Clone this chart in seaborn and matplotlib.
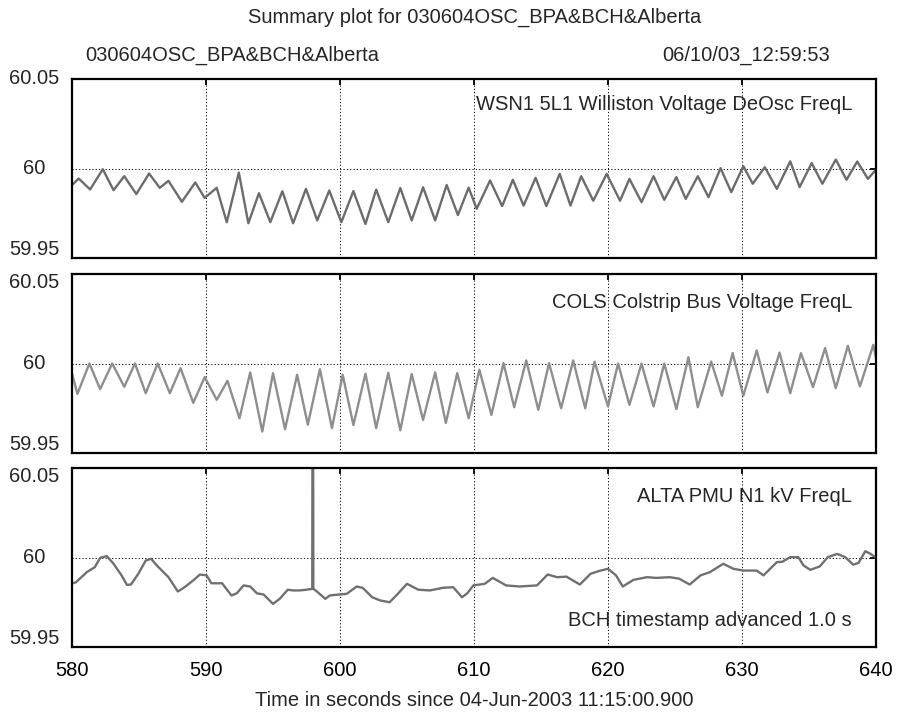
import matplotlib
matplotlib.use("Agg")
import matplotlib.pyplot as plt
import seaborn as sns
import pandas as pd

# ---- data: time (s) and frequency (Hz) for each monitored bus ----
wsn_t = [580.0, 580.5, 581.35, 582.3, 583.1, 583.9, 584.8, 585.75, 586.55, 587.2,
         588.2, 589.2, 589.9, 590.8, 591.55, 592.45, 593.16, 593.95, 594.8, 595.7,
         596.5, 597.46, 598.3, 599.2, 600.1, 601.0, 601.9, 602.7, 603.6, 604.5,
         605.35, 606.2, 607.1, 607.96, 608.8, 609.6, 610.2, 611.2, 612.1, 612.9,
         613.7, 614.6, 615.4, 616.4, 617.2, 618.0, 618.9, 619.9, 620.9, 621.6,
         622.5, 623.4, 624.2, 625.1, 625.8, 626.7, 627.5, 628.4, 629.2, 630.1,
         630.8, 631.7, 632.6, 633.6, 634.3, 635.2, 636.0, 637.0, 637.8, 638.6,
         639.4, 640.0]
wsn_f = [59.9907, 59.9944, 59.9883, 59.9996, 59.9879, 59.9957, 59.9857, 59.9972, 59.9892, 59.9931,
         59.9814, 59.9922, 59.9836, 59.9892, 59.9700, 59.9977, 59.9694, 59.9862, 59.9700, 59.9873,
         59.9694, 59.9886, 59.9710, 59.9877, 59.9700, 59.9874, 59.9690, 59.9882, 59.9700, 59.9891,
         59.9710, 59.9895, 59.9710, 59.9908, 59.9740, 59.9893, 59.9775, 59.9933, 59.9790, 59.9937,
         59.9793, 59.9948, 59.9790, 59.9970, 59.9793, 59.9957, 59.9820, 59.9970, 59.9820, 59.9942,
         59.9812, 59.9957, 59.9825, 59.9952, 59.9830, 59.9957, 59.9840, 60.0002, 59.9868, 60.0013,
         59.9915, 60.0007, 59.9886, 60.0040, 59.9896, 60.0030, 59.9915, 60.0050, 59.9937, 60.0039,
         59.9942, 59.9994]

cols_t = [580.0, 580.4, 581.3, 582.1, 583.0, 583.9, 584.7, 585.5, 586.4, 587.3,
          588.1, 589.05, 589.9, 590.8, 591.6, 592.5, 593.3, 594.2, 595.0, 595.9,
          596.8, 597.6, 598.5, 599.4, 600.2, 601.0, 601.9, 602.7, 603.6, 604.5,
          605.35, 606.2, 607.1, 607.9, 608.75, 609.6, 610.4, 611.3, 612.2, 613.0,
          613.9, 614.8, 615.6, 616.5, 617.4, 618.3, 619.0, 620.0, 620.75, 621.6,
          622.5, 623.4, 624.2, 625.1, 626.0, 626.7, 627.7, 628.5, 629.3, 630.1,
          631.1, 631.9, 632.8, 633.6, 634.4, 635.3, 636.2, 637.0, 637.9, 638.8,
          639.8, 640.0]
cols_f = [59.9946, 59.9830, 60.0000, 59.9857, 60.0000, 59.9870, 60.0000, 59.9834, 60.0000, 59.9834,
          59.9974, 59.9780, 59.9924, 59.9797, 59.9903, 59.9694, 59.9950, 59.9620, 59.9946, 59.9633,
          59.9937, 59.9658, 59.9968, 59.9639, 59.9937, 59.9656, 59.9943, 59.9639, 59.9948, 59.9627,
          59.9941, 59.9685, 59.9950, 59.9668, 59.9946, 59.9694, 59.9965, 59.9713, 60.0002, 59.9756,
          60.0017, 59.9741, 60.0002, 59.9750, 60.0017, 59.9750, 60.0010, 59.9760, 60.0000, 59.9769,
          60.0000, 59.9760, 60.0000, 59.9745, 60.0035, 59.9756, 60.0011, 59.9820, 60.0058, 59.9820,
          60.0073, 59.9838, 60.0061, 59.9834, 60.0058, 59.9868, 60.0086, 59.9862, 60.0099, 59.9872,
          60.0104, 60.0030]

alta_t = [580.05, 580.3, 581.1, 581.7, 582.1, 582.6, 583.1, 583.7, 584.1, 584.4,
          584.95, 585.5, 585.9, 586.4, 587.2, 587.9, 588.4, 589.05, 589.55, 590.05,
          590.4, 591.2, 591.9, 592.3, 592.8, 593.3, 593.8, 594.3, 595.0, 595.5,
          596.1, 596.5, 597.0, 597.5, 597.93, 597.97, 598.01, 598.25, 598.9, 599.25,
          599.9, 600.5, 601.25, 601.7, 602.4, 603.0, 603.7, 604.2, 605.0, 605.85,
          606.7, 607.7, 608.45, 609.1, 609.5, 609.95, 610.8, 611.4, 612.4, 613.4,
          614.7, 615.5, 616.2, 616.9, 617.9, 618.7, 619.3, 620.0, 620.6, 621.1,
          621.9, 622.9, 623.6, 624.6, 625.3, 626.1, 626.9, 627.6, 628.6, 629.35,
          630.1, 631.1, 631.6, 632.6, 633.0, 633.6, 634.2, 634.6, 635.1, 635.8,
          636.4, 637.1, 637.7, 638.3, 638.7, 639.2, 639.6, 640.0]
alta_f = [59.9856, 59.9862, 59.9918, 59.9946, 59.9998, 60.0008, 59.9965, 59.9900, 59.9847, 59.9849,
          59.9909, 59.9983, 59.9993, 59.9950, 59.9890, 59.9810, 59.9834, 59.9872, 59.9905, 59.9900,
          59.9856, 59.9856, 59.9788, 59.9800, 59.9844, 59.9838, 59.9800, 59.9793, 59.9741, 59.9769,
          59.9820, 59.9816, 59.9816, 59.9820, 59.9825, 60.2000, 59.9825, 59.9812, 59.9769, 59.9788,
          59.9793, 59.9797, 59.9838, 59.9830, 59.9778, 59.9760, 59.9750, 59.9788, 59.9853, 59.9820,
          59.9816, 59.9831, 59.9834, 59.9778, 59.9800, 59.9844, 59.9853, 59.9886, 59.9844, 59.9838,
          59.9844, 59.9905, 59.9890, 59.9893, 59.9849, 59.9909, 59.9924, 59.9937, 59.9900, 59.9838,
          59.9875, 59.9890, 59.9886, 59.9890, 59.9882, 59.9849, 59.9900, 59.9918, 59.9965, 59.9937,
          59.9927, 59.9927, 59.9900, 59.9974, 59.9976, 60.0002, 60.0002, 59.9955, 59.9931, 59.9950,
          60.0002, 60.0020, 60.0002, 59.9960, 59.9970, 60.0035, 60.0020, 59.9998]

panel_labels = ["WSN1 5L1 Williston Voltage DeOsc FreqL",
                "COLS Colstrip Bus Voltage FreqL",
                "ALTA PMU N1 kV FreqL"]
note_text = "BCH timestamp advanced 1.0 s"
x_ticks = [580, 590, 600, 610, 620, 630, 640]
y_ticks = [59.95, 60.0, 60.05]
y_ticklabels = ["59.95", "60", "60.05"]
case_name = "030604OSC_BPA&BCH&Alberta"
run_stamp = "06/10/03_12:59:53"
x_title = "Time in seconds since 04-Jun-2003 11:15:00.900"

sns.set_style("white")
plt.rcParams["font.family"] = ["Liberation Sans", "DejaVu Sans"]
FS = 14.5

W, H = 902, 716
fig = plt.figure(figsize=(W / 100, H / 100), dpi=100)

def frac_box(x0, y0, x1, y1):
    return [x0 / W, 1 - y1 / H, (x1 - x0) / W, (y1 - y0) / H]

boxes = [frac_box(72, 79, 876, 258),
         frac_box(72, 274, 876, 453),
         frac_box(72, 468, 876, 647)]
series = [(wsn_t, wsn_f, "#6c6c6c"),
          (cols_t, cols_f, "#8e8e8e"),
          (alta_t, alta_f, "#707070")]
label_y = [105, 302, 497]
# vertical nudge (points) of the y tick labels so the edge labels sit inside
# their own panel and do not collide with the neighbouring panel's labels
label_nudge = [[6, 0, 0], [6, 0, -6], [6, 0, -6]]

axes = []
for i, (box, (t, f, col)) in enumerate(zip(boxes, series)):
    ax = fig.add_axes(box)
    df = pd.DataFrame({"time": t, "freq": f})
    sns.lineplot(data=df, x="time", y="freq", ax=ax, color=col, lw=1.7,
                 estimator=None, sort=False)
    ax.set_xlim(580, 640)
    ax.set_ylim(59.95, 60.05)
    ax.set_xticks(x_ticks)
    ax.set_yticks(y_ticks)
    ax.set_yticklabels([])
    ax.grid(True, color="black", linestyle=(0, (1.2, 2.2)), linewidth=0.7)
    ax.set_axisbelow(True)
    ax.tick_params(direction="in", length=4.5, width=1.3, top=True, right=True,
                   labelsize=FS, colors="black")
    ax.tick_params(axis="x", pad=10)
    for s in ax.spines.values():
        s.set_color("black")
        s.set_linewidth(1.6)
    ax.set_xlabel("")
    ax.set_ylabel("")
    if i < 2:
        ax.set_xticklabels([])
    else:
        ax.set_xticklabels([str(v) for v in x_ticks])
    for yv, txt, dy in zip(y_ticks, y_ticklabels, label_nudge[i]):
        ax.annotate(txt, xy=(0, yv), xycoords=("axes fraction", "data"),
                    xytext=(-27.4, dy), textcoords="offset points",
                    ha="center", va="center", fontsize=FS, annotation_clip=False)
    fig.text(852 / W, 1 - label_y[i] / H, panel_labels[i], ha="right",
             va="center", fontsize=FS)
    axes.append(ax)

fig.text(852 / W, 1 - 621 / H, note_text, ha="right", va="center", fontsize=FS)
fig.text(475 / W, 1 - 17 / H, "Summary plot for " + case_name, ha="center",
         va="center", fontsize=FS)
fig.text(85 / W, 1 - 55 / H, case_name, ha="left", va="center", fontsize=FS)
fig.text(830 / W, 1 - 55 / H, run_stamp, ha="right", va="center", fontsize=FS)
fig.text(474 / W, 1 - 700 / H, x_title, ha="center", va="center", fontsize=FS)

fig.savefig("out.png", dpi=100, facecolor="white")
